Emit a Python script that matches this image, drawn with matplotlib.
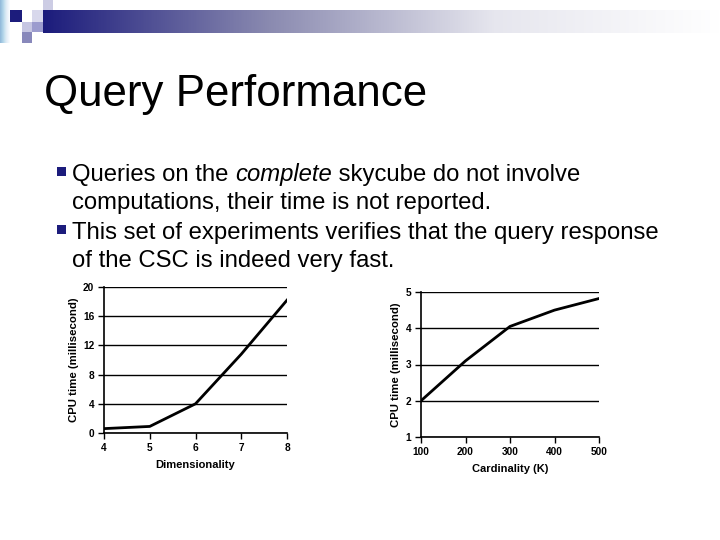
import numpy as np
import matplotlib.pyplot as plt
from matplotlib.colors import LinearSegmentedColormap

# data
dim = [4, 5, 6, 7, 8]
dim_cpu = [0.6, 0.9, 4.0, 10.8, 18.2]
card = [100, 200, 300, 400, 500]
card_cpu = [2.0, 3.1, 4.05, 4.5, 4.82]

title = "Query Performance"
bullets = [
    [("Queries on the ", "normal"), ("complete", "italic"), (" skycube do not involve", "normal")],
    [("computations, their time is not reported.", "normal")],
    [("This set of experiments verifies that the query response", "normal")],
    [("of the CSC is indeed very fast.", "normal")],
]

W, H = 720, 540
plt.rcParams['font.family'] = ['Liberation Sans', 'DejaVu Sans']
fig = plt.figure(figsize=(7.2, 5.4), dpi=100)
navy = '#1c1c7c'

def fx(x):
    return x / W

def fy(y):
    return 1 - y / H

# header decoration
bg = fig.add_axes([0, 0, 1, 1], zorder=-1)
bg.set_xlim(0, W)
bg.set_ylim(H, 0)
bg.axis('off')
cmap = LinearSegmentedColormap.from_list('hdr', [navy, '#8a8ab0', '#e6e6ee', '#ffffff'])
grad = np.linspace(0, 1, 256).reshape(1, -1)
bg.imshow(grad, cmap=cmap, extent=[43, W, 33, 10], aspect='auto')
bg.imshow(np.linspace(0.75, 0, 32).reshape(1, -1), cmap='Blues', vmin=0, vmax=1,
          extent=[0, 10, 43, 0], aspect='auto', alpha=0.5)
squares = [
    (10, 10, 12, 12, navy),
    (22, 22, 10, 10, '#c6c6e2'),
    (22, 32, 10, 11, '#8888bb'),
    (32, 10, 11, 12, '#d8d8ec'),
    (32, 22, 11, 10, '#9c9cce'),
    (43, 0, 10, 10, '#ccccE4'),
]
for x, y, w, h, c in squares:
    bg.add_patch(plt.Rectangle((x, y), w, h, color=c, lw=0))
bg.set_xlim(0, W)
bg.set_ylim(H, 0)

fig.text(fx(44), fy(106), title, fontsize=31.6, va='baseline', ha='left')

# bullet text
fig.canvas.draw()
renderer = fig.canvas.get_renderer()
baselines = [181, 209, 239, 267]
for i, (parts, yb) in enumerate(zip(bullets, baselines)):
    x = 72
    for s, style in parts:
        t = fig.text(fx(x), fy(yb), s, fontsize=17.2, style=style, va='baseline', ha='left')
        x += t.get_window_extent(renderer).width
    if i in (0, 2):
        bg.add_patch(plt.Rectangle((56.5, yb - 14), 9, 9, color=navy, lw=0))


def style_ax(ax):
    for s in ['top', 'right']:
        ax.spines[s].set_visible(False)
    for s in ['left', 'bottom']:
        ax.spines[s].set_linewidth(1.2)
    ax.yaxis.grid(True, color='black', lw=1)
    ax.set_axisbelow(True)
    ax.tick_params(direction='out', length=4, width=1, labelsize=7.3, pad=3)
    for lab in ax.get_xticklabels() + ax.get_yticklabels():
        lab.set_fontweight('bold')


ax1 = fig.add_axes([fx(104), fy(433), 183 / W, 146 / H])
ax1.plot(dim, dim_cpu, color='black', lw=2)
ax1.set_xlim(4, 8)
ax1.set_ylim(0, 20)
ax1.set_xticks(dim)
ax1.set_yticks([0, 4, 8, 12, 16, 20])
ax1.set_xlabel('Dimensionality', fontsize=8, fontweight='bold', labelpad=5)
ax1.set_ylabel('CPU time (millisecond)', fontsize=8.2, fontweight='bold', labelpad=3)
style_ax(ax1)

ax2 = fig.add_axes([fx(421), fy(437), 178 / W, 145 / H])
ax2.plot(card, card_cpu, color='black', lw=2)
ax2.set_xlim(100, 500)
ax2.set_ylim(1, 5)
ax2.set_xticks(card)
ax2.set_yticks([1, 2, 3, 4, 5])
ax2.set_xlabel('Cardinality (K)', fontsize=8, fontweight='bold', labelpad=5)
ax2.set_ylabel('CPU time (millisecond)', fontsize=8.2, fontweight='bold', labelpad=3)
style_ax(ax2)

fig.savefig('out.png', dpi=100)
